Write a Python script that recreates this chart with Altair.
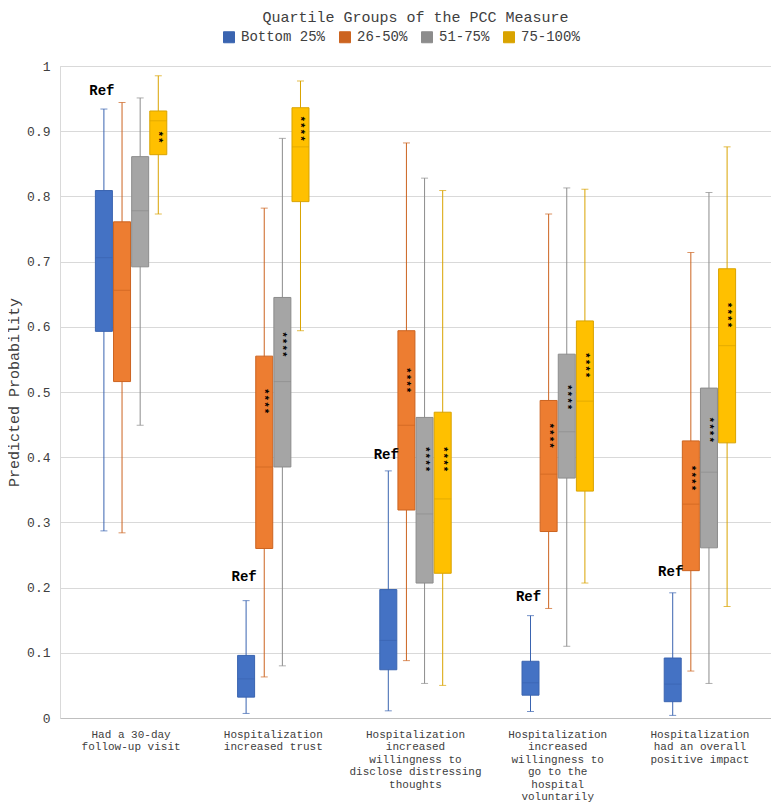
import altair as alt
import pandas as pd

categories = [
    "Had a 30-day|follow-up visit",
    "Hospitalization|increased trust",
    "Hospitalization|increased|willingness to|disclose distressing|thoughts",
    "Hospitalization|increased|willingness to|go to the|hospital|voluntarily",
    "Hospitalization|had an overall|positive impact",
]
groups = ["Bottom 25%", "26-50%", "51-75%", "75-100%"]

mins = [
    [0.287, 0.284, 0.449, 0.773],
    [0.007, 0.063, 0.080, 0.594],
    [0.011, 0.088, 0.053, 0.050],
    [0.010, 0.168, 0.110, 0.207],
    [0.004, 0.072, 0.053, 0.171],
]
q1s = [
    [0.593, 0.516, 0.692, 0.864],
    [0.032, 0.260, 0.385, 0.792],
    [0.074, 0.319, 0.207, 0.222],
    [0.035, 0.286, 0.368, 0.348],
    [0.025, 0.226, 0.261, 0.422],
]
medians = [
    [0.706, 0.656, 0.778, 0.916],
    [0.060, 0.385, 0.516, 0.876],
    [0.119, 0.449, 0.313, 0.336],
    [0.054, 0.374, 0.439, 0.486],
    [0.052, 0.328, 0.377, 0.571],
]
q3s = [
    [0.809, 0.761, 0.861, 0.931],
    [0.096, 0.555, 0.645, 0.936],
    [0.197, 0.594, 0.461, 0.469],
    [0.087, 0.487, 0.558, 0.609],
    [0.092, 0.425, 0.506, 0.689],
]
maxs = [
    [0.934, 0.944, 0.951, 0.985],
    [0.180, 0.782, 0.889, 0.977],
    [0.379, 0.882, 0.828, 0.809],
    [0.157, 0.773, 0.813, 0.811],
    [0.192, 0.714, 0.806, 0.876],
]
stars = [
    ["", "", "", "**"],
    ["", "****", "****", "****"],
    ["", "****", "****", "****"],
    ["", "****", "****", "****"],
    ["", "****", "****", "****"],
]
star_y = [
    [0, 0, 0, 0.891],
    [0, 0.486, 0.573, 0.904],
    [0, 0.518, 0.397, 0.397],
    [0, 0.433, 0.492, 0.541],
    [0, 0.368, 0.442, 0.618],
]
ref_y = [0.961, 0.217, 0.403, 0.186, 0.224]

fill_colors = ["#4472C4", "#ED7D31", "#A5A5A5", "#FFC000"]
line_colors = ["#3A64B0", "#CC6420", "#8C8C8C", "#D9A300"]

FONT = "Liberation Mono"

rows = []
for i, c in enumerate(categories):
    for j, g in enumerate(groups):
        rows.append(dict(cat=c, grp=g, lo=mins[i][j], q1=q1s[i][j], med=medians[i][j],
                         q3=q3s[i][j], hi=maxs[i][j]))
df = pd.DataFrame(rows)

star_rows = []
for i, c in enumerate(categories):
    for j, g in enumerate(groups):
        if stars[i][j]:
            star_rows.append(dict(cat=c, grp=g, y=star_y[i][j], t=stars[i][j]))
star_df = pd.DataFrame(star_rows)

ref_df = pd.DataFrame(dict(cat=categories, grp=[groups[0]] * len(categories), y=ref_y,
                           t=["Ref"] * len(categories)))

x_enc = alt.X(
    "cat:N", sort=categories, title=None,
    scale=alt.Scale(domain=categories, paddingInner=0.49, paddingOuter=0.245),
    axis=alt.Axis(labelExpr="split(datum.label, '|')", labelAngle=0, labelAlign="center",
                  labelBaseline="top", labelPadding=10, labelLineHeight=12.5,
                  labelFont=FONT, labelFontSize=11, labelColor="#404040",
                  ticks=False, domainColor="#BFBFBF", grid=False, labelLimit=300),
)
xo_enc = alt.XOffset("grp:N", sort=groups,
                     scale=alt.Scale(domain=groups, paddingInner=0, paddingOuter=0))
y_axis = alt.Axis(values=[i / 10 for i in range(11)], format="~g", title="Predicted Probability",
                  titleFont=FONT, titleFontSize=15, titleFontWeight="normal", titleColor="#404040",
                  titlePadding=5, labelFont=FONT, labelFontSize=13, labelColor="#404040",
                  labelPadding=10, ticks=False, domainColor="#D9D9D9", gridColor="#D9D9D9")
y_scale = alt.Scale(domain=[0, 1], nice=False)

legend = alt.Legend(title=None, orient="none", legendX=162, legendY=-36, direction="horizontal",
                    symbolType="square", symbolSize=121, symbolStrokeWidth=1, labelFont=FONT,
                    labelFontSize=14, labelColor="#404040", labelOffset=5, columnPadding=11,
                    padding=0)

base = alt.Chart(df).encode(x=x_enc, xOffset=xo_enc)

whisker = base.mark_rule(strokeWidth=1).encode(
    y=alt.Y("lo:Q", scale=y_scale, axis=y_axis),
    y2="hi:Q",
    stroke=alt.Stroke("grp:N", sort=groups, scale=alt.Scale(domain=groups, range=line_colors),
                      legend=legend),
)
box = base.mark_bar(size=17, strokeWidth=1).encode(
    y=alt.Y("q1:Q", scale=y_scale, axis=y_axis),
    y2="q3:Q",
    fill=alt.Fill("grp:N", sort=groups, scale=alt.Scale(domain=groups, range=fill_colors),
                  legend=legend),
    stroke=alt.Stroke("grp:N", sort=groups, scale=alt.Scale(domain=groups, range=line_colors),
                      legend=legend),
)
color_enc = alt.Color("grp:N", sort=groups, scale=alt.Scale(domain=groups, range=line_colors),
                      legend=None)
median = base.mark_tick(size=17, thickness=1).encode(
    y=alt.Y("med:Q", scale=y_scale, axis=y_axis), color=color_enc)
cap_hi = base.mark_tick(size=7, thickness=1).encode(
    y=alt.Y("hi:Q", scale=y_scale, axis=y_axis), color=color_enc)
cap_lo = base.mark_tick(size=7, thickness=1).encode(
    y=alt.Y("lo:Q", scale=y_scale, axis=y_axis), color=color_enc)

star_text = alt.Chart(star_df).mark_text(
    angle=90, font=FONT, fontSize=11, fontWeight="bold", color="#000000", baseline="middle",
    align="center"
).encode(x=x_enc, xOffset=xo_enc, y=alt.Y("y:Q", scale=y_scale, axis=y_axis), text="t:N")

ref_text = alt.Chart(ref_df).mark_text(
    font=FONT, fontSize=14, fontWeight="bold", color="#000000", baseline="middle",
    align="center", dx=-2
).encode(x=x_enc, xOffset=xo_enc, y=alt.Y("y:Q", scale=y_scale, axis=y_axis), text="t:N")

chart = alt.layer(whisker, cap_hi, cap_lo, box, median, star_text, ref_text).properties(
    width=711, height=652,
    padding={"left": 52, "top": 58, "right": 0, "bottom": 84},
    autosize=alt.AutoSizeParams(type="none"),
    title=alt.TitleParams("Quartile Groups of the PCC Measure", font=FONT, fontSize=15,
                          fontWeight="normal", color="#404040", anchor="middle", frame="group",
                          offset=5),
).configure_view(stroke=None).configure(background="white")

chart.save("out.html", embed_options={"renderer": "svg", "actions": False})
